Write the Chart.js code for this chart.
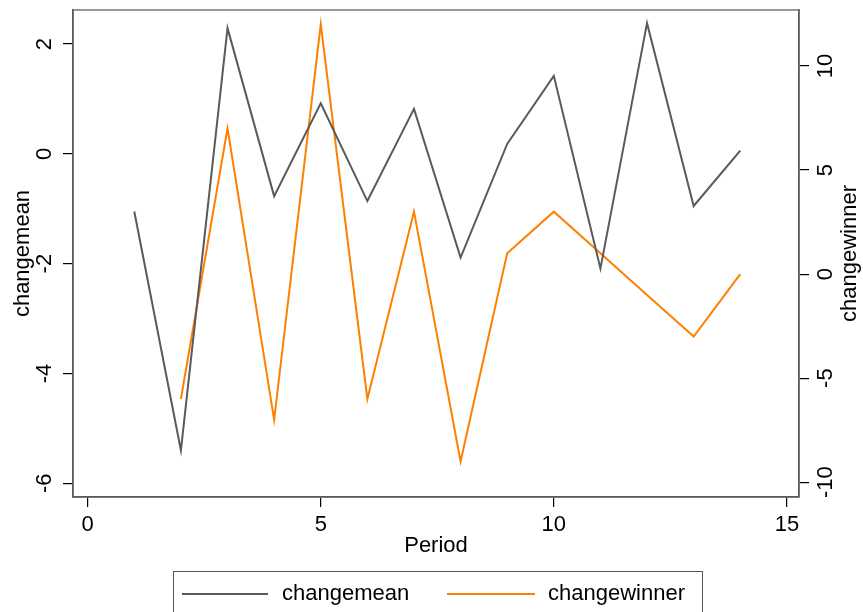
<!DOCTYPE html>
<html>
<head>
<meta charset="utf-8">
<script src="https://cdn.jsdelivr.net/npm/chart.js@4/dist/chart.umd.min.js"></script>
<style>
  html, body { margin: 0; padding: 0; background: #fff; }
  #wrap { width: 863px; height: 612px; position: relative; }
</style>
</head>
<body>
<div id="wrap"><canvas id="c" width="863" height="612"></canvas></div>
<script>
// Period index and the two series
const periods = [1, 2, 3, 4, 5, 6, 7, 8, 9, 10, 11, 12, 13, 14];
const changemean = [-1.05, -5.40, 2.29, -0.77, 0.92, -0.86, 0.82, -1.89, 0.18, 1.42, -2.09, 2.38, -0.95, 0.06];
const changewinner = [null, -6, 7, -7, 12, -6, 3, -9, 1, 3, 1, -1, -3, 0];

// Tick labels
const xTicks = [0, 5, 10, 15];
const yLeftTicks = [-6, -4, -2, 0, 2];
const yRightTicks = [-10, -5, 0, 5, 10];

const FONT = '"Liberation Sans", Arial, Helvetica, sans-serif';
const GRAY = '#5a5a5a';
const ORANGE = '#ff8000';

function pts(ys) {
  return periods.map((p, i) => ({ x: p, y: ys[i] }));
}

function fixedTicks(list) {
  return function (scale) { scale.ticks = list.map(v => ({ value: v })); };
}

// Draws the frame, tick labels, axis titles and the boxed legend
const decor = {
  id: 'decor',
  beforeDatasetsDraw(chart) {
    const { ctx, chartArea: a } = chart;
    ctx.save();
    ctx.strokeStyle = '#777';
    ctx.lineWidth = 1.5;
    ctx.strokeRect(a.left, a.top, a.right - a.left, a.bottom - a.top);
    ctx.restore();
  },
  afterDraw(chart) {
    const { ctx, chartArea: a, scales } = chart;
    ctx.save();
    ctx.fillStyle = '#000';
    ctx.font = '22px ' + FONT;
    ctx.textAlign = 'center';
    ctx.textBaseline = 'middle';

    // x tick labels
    xTicks.forEach(v => {
      ctx.fillText(String(v), scales.x.getPixelForValue(v), 525);
    });

    // rotated y tick labels
    const rot = (txt, x, y) => {
      ctx.save();
      ctx.translate(x, y);
      ctx.rotate(-Math.PI / 2);
      ctx.fillText(txt, 0, 0);
      ctx.restore();
    };
    yLeftTicks.forEach(v => rot(String(v), 45, scales.y.getPixelForValue(v)));
    yRightTicks.forEach(v => rot(String(v), 826, scales.y1.getPixelForValue(v)));

    // axis titles
    const midY = (a.top + a.bottom) / 2;
    rot('changemean', 23, midY);
    rot('changewinner', 850, midY);
    ctx.fillText('Period', (a.left + a.right) / 2, 546);

    // legend
    ctx.strokeStyle = '#555';
    ctx.lineWidth = 1;
    ctx.strokeRect(173.5, 571.5, 529, 60);
    const items = [
      { x1: 182, x2: 268, tx: 282 },
      { x1: 447, x2: 535, tx: 548 }
    ];
    chart.data.datasets.forEach((ds, i) => {
      const it = items[i];
      ctx.strokeStyle = ds.borderColor;
      ctx.lineWidth = 2;
      ctx.beginPath();
      ctx.moveTo(it.x1, 594);
      ctx.lineTo(it.x2, 594);
      ctx.stroke();
      ctx.textAlign = 'left';
      ctx.fillText(ds.label, it.tx, 594);
    });
    ctx.restore();
  }
};

const axisGrid = { drawOnChartArea: false, drawTicks: true, tickLength: 10, color: '#000', lineWidth: 1.2 };
const axisBorder = { display: true, color: '#000', width: 1.5 };

new Chart(document.getElementById('c'), {
  type: 'line',
  data: {
    datasets: [
      { label: 'changemean', data: pts(changemean), yAxisID: 'y',
        borderColor: GRAY, borderWidth: 2, pointRadius: 0, tension: 0, fill: false },
      { label: 'changewinner', data: pts(changewinner), yAxisID: 'y1',
        borderColor: ORANGE, borderWidth: 2, pointRadius: 0, tension: 0, fill: false }
    ]
  },
  options: {
    responsive: false,
    animation: false,
    layout: { padding: { top: 10, left: 0, right: 0, bottom: 0 } },
    plugins: { legend: { display: false }, tooltip: { enabled: false } },
    scales: {
      x: {
        type: 'linear', position: 'bottom', min: -0.315, max: 15.26,
        afterBuildTicks: fixedTicks(xTicks),
        afterFit(s) { s.height = 115; },
        ticks: { display: false },
        grid: axisGrid, border: axisBorder
      },
      y: {
        type: 'linear', position: 'left', min: -6.25, max: 2.62,
        afterBuildTicks: fixedTicks(yLeftTicks),
        afterFit(s) { s.width = 73; },
        ticks: { display: false },
        grid: axisGrid, border: axisBorder
      },
      y1: {
        type: 'linear', position: 'right', min: -10.71, max: 12.69,
        afterBuildTicks: fixedTicks(yRightTicks),
        afterFit(s) { s.width = 64; },
        ticks: { display: false },
        grid: axisGrid, border: axisBorder
      }
    }
  },
  plugins: [decor]
});
</script>
</body>
</html>
